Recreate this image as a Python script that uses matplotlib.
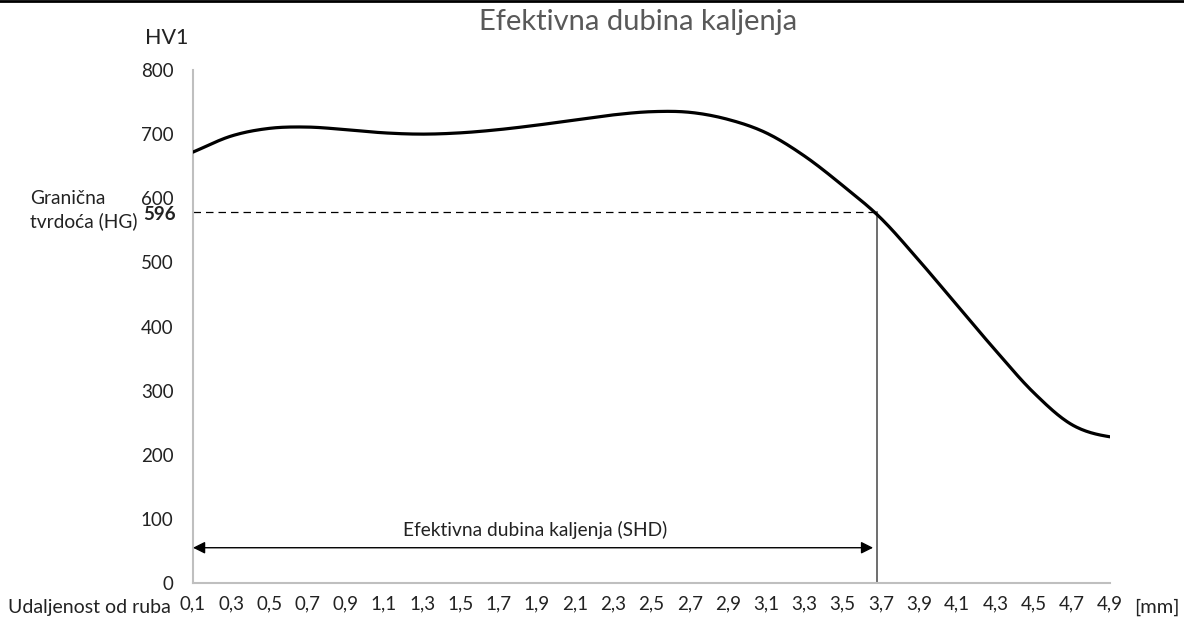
import numpy as np
import matplotlib.pyplot as plt

plt.rcParams['font.family'] = ['Lato', 'DejaVu Sans']

# depth from the edge [mm] and hardness HV1
depth = [0.1, 0.3, 0.5, 0.7, 0.9, 1.1, 1.3, 1.5, 1.7, 1.9, 2.1, 2.3, 2.5,
         2.7, 2.9, 3.1, 3.3, 3.5, 3.7, 3.9, 4.1, 4.3, 4.5, 4.7, 4.9]
hardness = [672, 697, 709, 711, 707, 702, 700, 702, 707, 714, 722, 730, 735,
            734, 723, 702, 666, 620, 569, 503, 433, 363, 297, 247, 228]

y_ticks = [0, 100, 200, 300, 400, 500, 600, 700, 800]
hg_label = '596'
hg_level = 578      # where the dashed limit line sits on the picture
shd_depth = 3.68    # effective case depth


def smooth(x, y, n=24):
    # catmull-rom through the measured points, only for drawing
    x = np.asarray(x, float)
    y = np.asarray(y, float)
    px = np.concatenate([[2 * x[0] - x[1]], x, [2 * x[-1] - x[-2]]])
    py = np.concatenate([[2 * y[0] - y[1]], y, [y[-1]]])
    t = np.linspace(0, 1, n, endpoint=False)
    xs, ys = [], []
    for i in range(1, len(px) - 2):
        for p, out in ((px, xs), (py, ys)):
            p0, p1, p2, p3 = p[i - 1], p[i], p[i + 1], p[i + 2]
            out.extend(0.5 * (2 * p1 + (-p0 + p2) * t
                              + (2 * p0 - 5 * p1 + 4 * p2 - p3) * t ** 2
                              + (-p0 + 3 * p1 - 3 * p2 + p3) * t ** 3))
    xs.append(x[-1])
    ys.append(y[-1])
    return np.array(xs), np.array(ys)


fig = plt.figure(figsize=(11.84, 6.23), dpi=100)
ax = fig.add_axes([193 / 1184, 1 - 583 / 623, (1110 - 193) / 1184, (583 - 70) / 623])

sx, sy = smooth(depth, hardness)
ax.plot(sx, sy, color='black', lw=2.3, solid_capstyle='round', zorder=3)

ax.set_xlim(depth[0], depth[-1])
ax.set_ylim(0, 800)

# limit hardness and effective depth
ax.plot([depth[0], shd_depth], [hg_level, hg_level], color='black', lw=0.9,
        dashes=(6, 4))
ax.plot([shd_depth, shd_depth], [0, hg_level], color='#555555', lw=1.2)
ax.annotate('', xy=(depth[0], 55), xytext=(shd_depth - 0.02, 55),
            arrowprops=dict(arrowstyle='<|-|>', color='black', lw=1.0,
                            mutation_scale=18, shrinkA=0, shrinkB=0))
ax.text((depth[0] + shd_depth) / 2, 68, 'Efektivna dubina kaljenja (SHD)',
        ha='center', va='bottom', fontsize=13.8, color='#222222')

for s in ['top', 'right']:
    ax.spines[s].set_visible(False)
for s in ['left', 'bottom']:
    ax.spines[s].set_color('#bfbfbf')
    ax.spines[s].set_linewidth(1.5)

ax.set_yticks(y_ticks)
ax.set_yticklabels([str(v) for v in y_ticks])
ax.set_xticks(depth)
ax.set_xticklabels([f'{d:.1f}'.replace('.', ',') for d in depth])
ax.tick_params(length=0, labelsize=13.5, colors='#222222')
ax.tick_params(axis='y', pad=14)
ax.tick_params(axis='x', pad=9)

fig.text(176 / 1184, 1 - 215 / 623, hg_label, ha='right', va='center',
         fontsize=13.5, fontweight='bold', color='#222222')
fig.text(30 / 1184, 1 - 210 / 623, 'Granična\ntvrdoća (HG)', ha='left',
         va='center', fontsize=13.8, color='#222222', linespacing=1.35)
fig.text(145 / 1184, 1 - 38 / 623, 'HV1', ha='left', va='center',
         fontsize=15.5, color='#222222')
fig.text(8 / 1184, 1 - 607 / 623, 'Udaljenost od ruba', ha='left',
         va='center', fontsize=14, color='#222222')
fig.text(1134 / 1184, 1 - 607 / 623, '[mm]', ha='left', va='center',
         fontsize=14.5, color='#222222')
fig.text(638 / 1184, 1 - 22 / 623, 'Efektivna dubina kaljenja', ha='center',
         va='center', fontsize=21, color='#595959')

# frame line along the top edge
fig.add_artist(plt.Line2D([0, 1], [0.998, 0.998], color='black', lw=2,
                          transform=fig.transFigure))

fig.savefig('out.png', dpi=100)
